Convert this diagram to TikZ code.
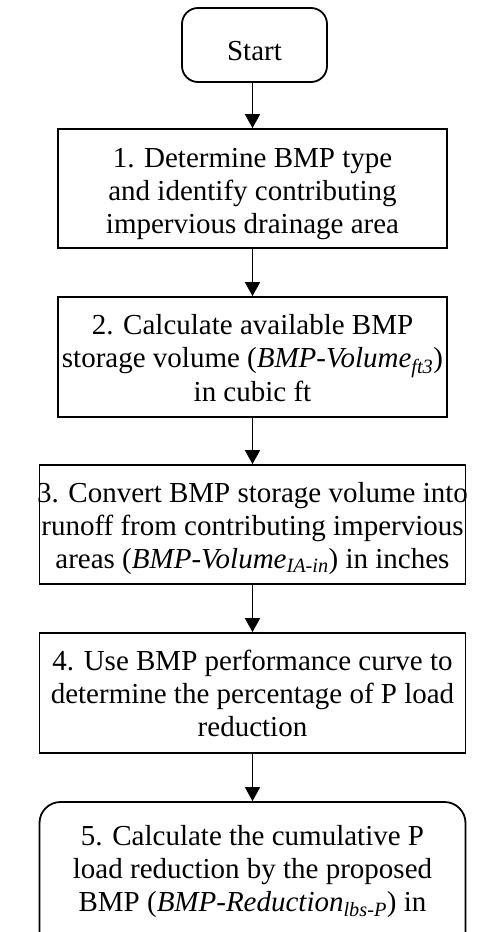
\documentclass[tikz,border=0pt]{standalone}
\usepackage{fontspec}
\setmainfont{Liberation Serif}
\usetikzlibrary{arrows.meta}
\begin{document}
\begin{tikzpicture}[x=1pt,y=-1pt,
  boxshape/.style={draw=black,line width=1.8pt,inner sep=0pt,anchor=center,rectangle},
  sq/.style={boxshape},
  rnd/.style={boxshape,rounded corners=16pt},
  txt/.style={inner sep=0pt,align=center,font=\fontsize{29}{33}\selectfont},
  arr/.style={line width=1.8pt,-{Triangle[width=15pt,length=14pt]}}]
\useasboundingbox (0,0) rectangle (484,932);
\clip (0,0) rectangle (484,932);
\fill[white] (0,0) rectangle (484,932);
% boxes
\node[rnd,minimum width=145pt,minimum height=74pt] (b0) at (254.5,45) {};
\node[sq,minimum width=389pt,minimum height=119pt] (b1) at (252.5,188.5) {};
\node[sq,minimum width=389pt,minimum height=120pt] (b2) at (252.5,357) {};
\node[sq,minimum width=426pt,minimum height=119pt] (b3) at (252.5,524.5) {};
\node[sq,minimum width=426pt,minimum height=120pt] (b4) at (252.5,693) {};
\node[rnd,rounded corners=21pt,minimum width=426pt,minimum height=188pt] (b5) at (252.5,896) {};
% texts
\node[txt] (t0) at (254.5,53.4) {\strut Start};
\node[txt] (t1) at (252.5,193.4) {\strut 1. Determine BMP type\\ \strut and identify contributing\\ \strut impervious drainage area};
\node[txt] (t2) at (252.5,361.4) {\strut 2. Calculate available BMP\\ \strut storage volume (\textit{BMP-Volume}\textsubscript{\itshape ft3})\\ \strut in cubic ft};
\node[txt] (t3) at (252.5,528.4) {\strut 3. Convert BMP storage volume into\\ \strut runoff from contributing impervious\\ \strut areas (\textit{BMP-Volume}\textsubscript{\itshape IA-in}) in inches};
\node[txt] (t4) at (252.5,696.4) {\strut 4. Use BMP performance curve to\\ \strut determine the percentage of P load\\ \strut reduction};
\node[txt] (t5) at (252.5,871.4) {\strut 5. Calculate the cumulative P\\ \strut load reduction by the proposed\\ \strut BMP (\textit{BMP-Reduction}\textsubscript{\itshape lbs-P}) in};
% arrows
\draw[arr] (b0.south -| b1.north) -- (b1.north);
\draw[arr] (b1.south) -- (b2.north);
\draw[arr] (b2.south) -- (b3.north);
\draw[arr] (b3.south) -- (b4.north);
\draw[arr] (b4.south) -- (b5.north);
\end{tikzpicture}
\end{document}
